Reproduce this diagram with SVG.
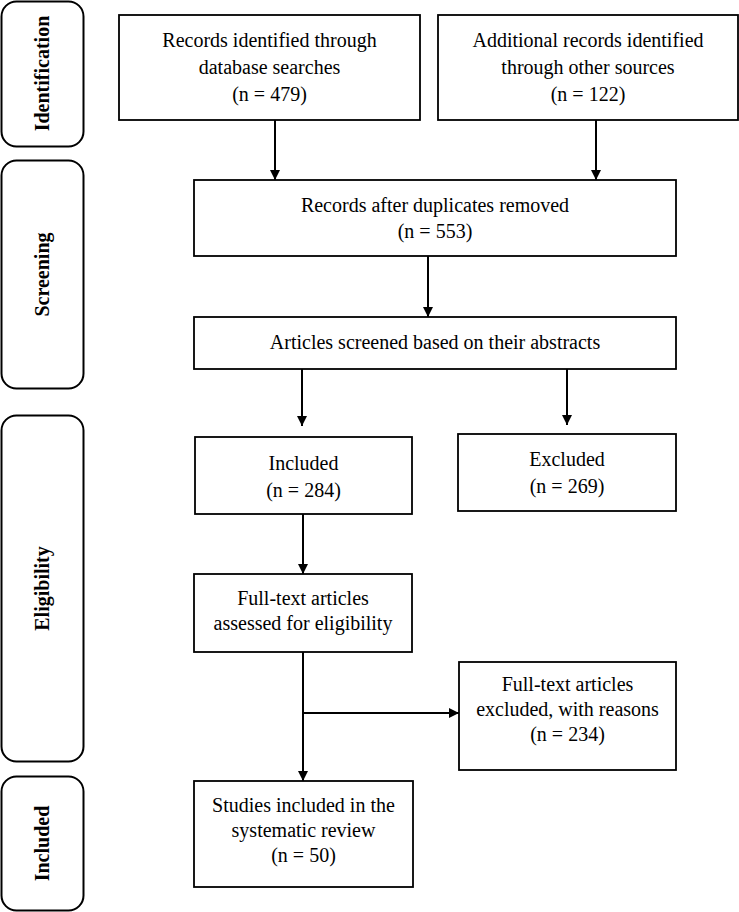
<svg xmlns="http://www.w3.org/2000/svg" width="739" height="912" viewBox="0 0 739 912">
<style>
  .stage { fill: #fff; stroke: #000; stroke-width: 2; }
  .box { fill: #fff; stroke: #000; stroke-width: 1.8; }
  .t { font-family: "Liberation Serif", "Times New Roman", serif; font-size: 20px; fill: #000; text-anchor: middle; }
  .s { font-family: "Liberation Serif", "Times New Roman", serif; font-size: 20px; font-weight: bold; fill: #000; text-anchor: middle; }
  .c { fill: none; stroke: #000; stroke-width: 2; }
</style>
<defs>
  <marker id="arr" viewBox="0 0 10 10" refX="10" refY="5" markerWidth="5" markerHeight="5" orient="auto" markerUnits="strokeWidth">
    <path d="M0,0 L10,5 L0,10 z" fill="#000"/>
  </marker>
</defs>
<rect width="739" height="912" fill="#fff"/>

<g id="stage-identification">
  <rect class="stage" x="1.5" y="1.5" width="82" height="145" rx="15"/>
  <text class="s" transform="translate(49,73.5) rotate(-90)">Identification</text>
</g>
<g id="stage-screening">
  <rect class="stage" x="1.5" y="160.5" width="82" height="228" rx="15"/>
  <text class="s" transform="translate(49,274.5) rotate(-90)">Screening</text>
</g>
<g id="stage-eligibility">
  <rect class="stage" x="1.5" y="415.5" width="82" height="346" rx="15"/>
  <text class="s" transform="translate(49,588.5) rotate(-90)">Eligibility</text>
</g>
<g id="stage-included">
  <rect class="stage" x="1.5" y="776.5" width="82" height="134" rx="15"/>
  <text class="s" transform="translate(49,843.5) rotate(-90)">Included</text>
</g>

<g id="connectors">
  <line class="c" x1="275" y1="120" x2="275" y2="180" marker-end="url(#arr)"/>
  <line class="c" x1="596" y1="120" x2="596" y2="180" marker-end="url(#arr)"/>
  <line class="c" x1="428" y1="256" x2="428" y2="317" marker-end="url(#arr)"/>
  <line class="c" x1="302" y1="369" x2="302" y2="426" marker-end="url(#arr)"/>
  <line class="c" x1="567" y1="369" x2="567" y2="425" marker-end="url(#arr)"/>
  <line class="c" x1="303" y1="514" x2="303" y2="574" marker-end="url(#arr)"/>
  <line class="c" x1="303" y1="652" x2="303" y2="781" marker-end="url(#arr)"/>
  <line class="c" x1="303" y1="713" x2="459" y2="713" marker-end="url(#arr)"/>
</g>

<g id="records-db">
  <rect class="box" x="119" y="15" width="301" height="105"/>
  <text class="t" x="269.5" y="47">Records identified through</text>
  <text class="t" x="269.5" y="74">database searches</text>
  <text class="t" x="269.5" y="101">(n = 479)</text>
</g>
<g id="records-other">
  <rect class="box" x="438" y="15" width="300" height="105"/>
  <text class="t" x="588" y="47">Additional records identified</text>
  <text class="t" x="588" y="74">through other sources</text>
  <text class="t" x="588" y="101">(n = 122)</text>
</g>
<g id="records-dedup">
  <rect class="box" x="194" y="180" width="482" height="76"/>
  <text class="t" x="435" y="212">Records after duplicates removed</text>
  <text class="t" x="435" y="238">(n = 553)</text>
</g>
<g id="abstract-screen">
  <rect class="box" x="194" y="317" width="482" height="52"/>
  <text class="t" x="435" y="349">Articles screened based on their abstracts</text>
</g>
<g id="included-284">
  <rect class="box" x="195" y="437" width="217" height="77"/>
  <text class="t" x="303.5" y="470">Included</text>
  <text class="t" x="303.5" y="497">(n = 284)</text>
</g>
<g id="excluded-269">
  <rect class="box" x="458" y="434" width="218" height="77"/>
  <text class="t" x="567" y="466">Excluded</text>
  <text class="t" x="567" y="493">(n = 269)</text>
</g>
<g id="fulltext-assessed">
  <rect class="box" x="194" y="574" width="218" height="78"/>
  <text class="t" x="303" y="605">Full-text articles</text>
  <text class="t" x="303" y="630">assessed for eligibility</text>
</g>
<g id="fulltext-excluded">
  <rect class="box" x="459" y="662" width="217" height="108"/>
  <text class="t" x="567.5" y="691">Full-text articles</text>
  <text class="t" x="567.5" y="716">excluded, with reasons</text>
  <text class="t" x="567.5" y="741">(n = 234)</text>
</g>
<g id="studies-included">
  <rect class="box" x="194" y="781" width="219" height="106"/>
  <text class="t" x="303.5" y="812">Studies included in the</text>
  <text class="t" x="303.5" y="837">systematic review</text>
  <text class="t" x="303.5" y="862">(n = 50)</text>
</g>
</svg>
